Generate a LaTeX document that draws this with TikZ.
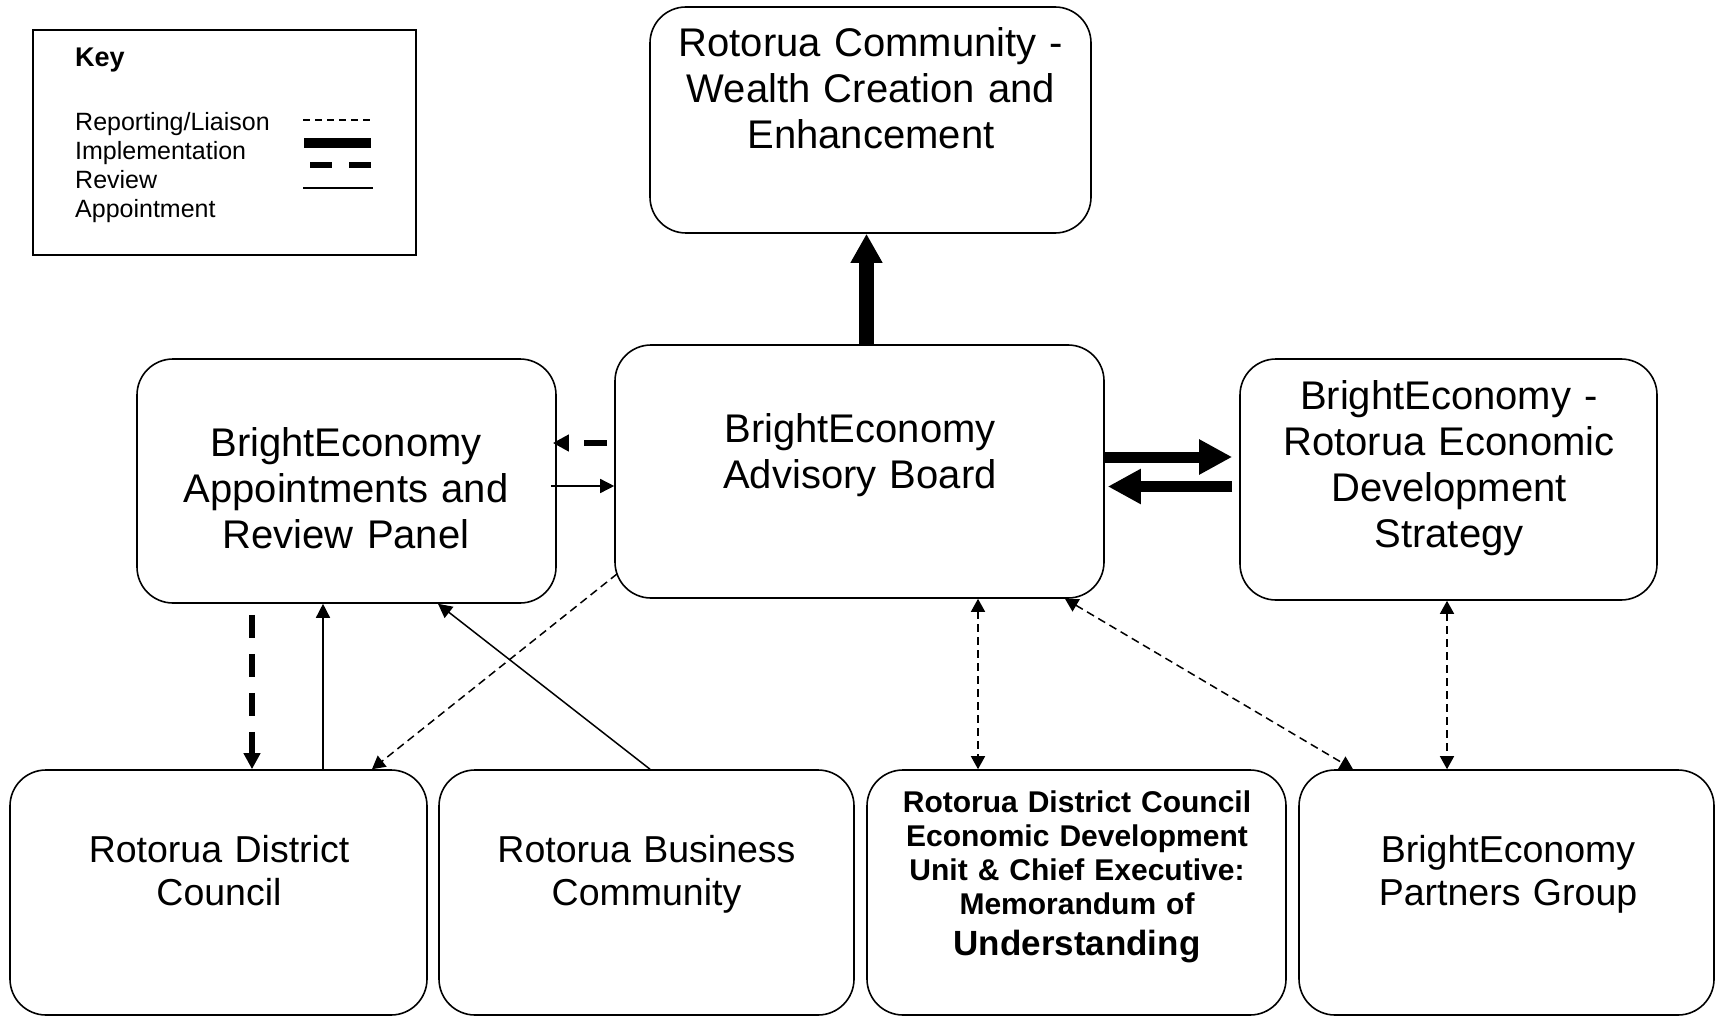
\documentclass[tikz,border=0pt]{standalone}
\usepackage{fontspec}
\setmainfont{Liberation Sans}
\usetikzlibrary{arrows.meta,calc}
\tikzset{
  box/.style={draw, line width=1.6pt, rounded corners=36pt, inner sep=0pt, anchor=center},
  bigtxt/.style={font=\fontsize{40pt}{46pt}\selectfont, align=center, text width=470pt, inner sep=0pt, anchor=base},
  midtxt/.style={font=\fontsize{37.5pt}{43pt}\selectfont, align=center, text width=470pt, inner sep=0pt, anchor=base},
  boldtxt/.style={font=\bfseries\fontsize{30pt}{34pt}\selectfont, align=center, text width=470pt, inner sep=0pt, anchor=base},
  keytxt/.style={font=\fontsize{25pt}{29pt}\selectfont, align=left, text width=250pt, inner sep=0pt, anchor=base west},
  implv/.style={line width=15pt, -{Triangle[width=30pt,length=29pt]}},
  implh/.style={line width=11pt, -{Triangle[width=33pt,length=33pt]}},
  review/.style={line width=6pt, dash pattern=on 23pt off 16pt, -{Triangle[width=16pt,length=16pt]}},
  appoint/.style={line width=1.5pt, -{Triangle[width=14pt,length=14pt]}},
  report/.style={line width=1.5pt, dash pattern=on 8pt off 5pt, {Triangle[width=14pt,length=13pt]}-{Triangle[width=14pt,length=13pt]}},
  report1/.style={line width=1.5pt, dash pattern=on 8pt off 5pt, -{Triangle[width=14pt,length=13pt]}},
}
\begin{document}
\begin{tikzpicture}[x=1pt,y=-1pt]
\useasboundingbox (0,0) rectangle (1715,1016);

% Key
\node[draw, line width=1.5pt, minimum width=383pt, minimum height=225pt, inner sep=0pt] (key) at (224.5,142.5) {};
\node[font=\bfseries\fontsize{27pt}{31pt}\selectfont, inner sep=0pt, anchor=base west] (keyt) at (75,67) {Key};
\node[keytxt] (keyl) at (75,131) {Reporting/Liaison\\Implementation\\Review\\Appointment};
\coordinate (k1a) at (303,120); \coordinate (k1b) at (373,120);
\coordinate (k2a) at (304,143); \coordinate (k2b) at (371,143);
\coordinate (k3a) at (310,165); \coordinate (k3b) at (371,165);
\coordinate (k4a) at (303,188); \coordinate (k4b) at (373,188);
\draw[line width=1.5pt, dash pattern=on 7pt off 5pt] (k1a) -- (k1b);
\draw[line width=10pt] (k2a) -- (k2b);
\draw[line width=6pt, dash pattern=on 22pt off 17pt] (k3a) -- (k3b);
\draw[line width=1.5pt] (k4a) -- (k4b);

% Boxes
\node[box, minimum width=441pt, minimum height=226pt] (com) at (870.5,120) {};
\node[box, minimum width=489pt, minimum height=253pt] (adv) at (859.5,471.5) {};
\node[box, minimum width=419pt, minimum height=244pt] (app) at (346.5,481) {};
\node[box, minimum width=417pt, minimum height=241pt] (str) at (1448.5,479.5) {};
\node[box, minimum width=417pt, minimum height=245pt] (rdc) at (218.5,892.5) {};
\node[box, minimum width=415pt, minimum height=245pt] (bus) at (646.5,892.5) {};
\node[box, minimum width=419pt, minimum height=245pt] (mou) at (1076.5,892.5) {};
\node[box, minimum width=415pt, minimum height=245pt] (par) at (1506.5,892.5) {};

% Texts
\node[bigtxt] (comt) at (871,57) {Rotorua Community -\\Wealth Creation and\\Enhancement};
\node[bigtxt] (advt) at (860,442) {BrightEconomy\\Advisory Board};
\node[bigtxt] (appt) at (346,456) {BrightEconomy\\Appointments and\\Review Panel};
\node[bigtxt] (strt) at (1449,409) {BrightEconomy -\\Rotorua Economic\\Development\\Strategy};
\node[midtxt] (rdct) at (219,862) {Rotorua District\\Council};
\node[midtxt] (bust) at (646.5,862) {Rotorua Business\\Community};
\node[boldtxt] (mout) at (1077,812) {Rotorua District Council\\Economic Development\\Unit \& Chief Executive:\\Memorandum of\\[7pt]{\fontsize{35pt}{40pt}\selectfont Understanding}};
\node[midtxt] (part) at (1508,862) {BrightEconomy\\Partners Group};

% Connectors
\draw[implv] ([xshift=7pt]adv.north) -- ([xshift=-4pt]com.south);
\draw[implh] ([yshift=14.5pt]adv.east) -- ([xshift=-7pt,yshift=22.5pt]str.west);
\draw[implh] ([xshift=-7pt,yshift=-7pt]str.west) -- ([xshift=3pt,yshift=-15pt]adv.east);
\draw[review, shorten <=7pt] ([yshift=28.5pt]adv.west) -- ([xshift=-4pt,yshift=38pt]app.east);
\draw[appoint, shorten <=-6pt] ([yshift=-5pt]app.east) -- ([yshift=-14.5pt]adv.west);
\draw[review, shorten <=11pt] ([xshift=-94.5pt]app.south) -- ([xshift=33.5pt]rdc.north);
\draw[appoint] ([xshift=104.5pt]rdc.north) -- ([xshift=-23.5pt]app.south);
\draw[appoint] ([xshift=3.5pt]bus.north) -- ([xshift=91.5pt]app.south);
\draw[report1] ([xshift=3pt,yshift=25pt]adv.south west) -- ([xshift=153.5pt]rdc.north);
\draw[report] ([xshift=118.5pt]adv.south) -- ([xshift=-98.5pt]mou.north);
\draw[report] ([xshift=205.5pt]adv.south) -- ([xshift=-153.5pt]par.north);
\draw[report] ([xshift=-1.5pt]str.south) -- ([xshift=-59.5pt]par.north);
\end{tikzpicture}
\end{document}
